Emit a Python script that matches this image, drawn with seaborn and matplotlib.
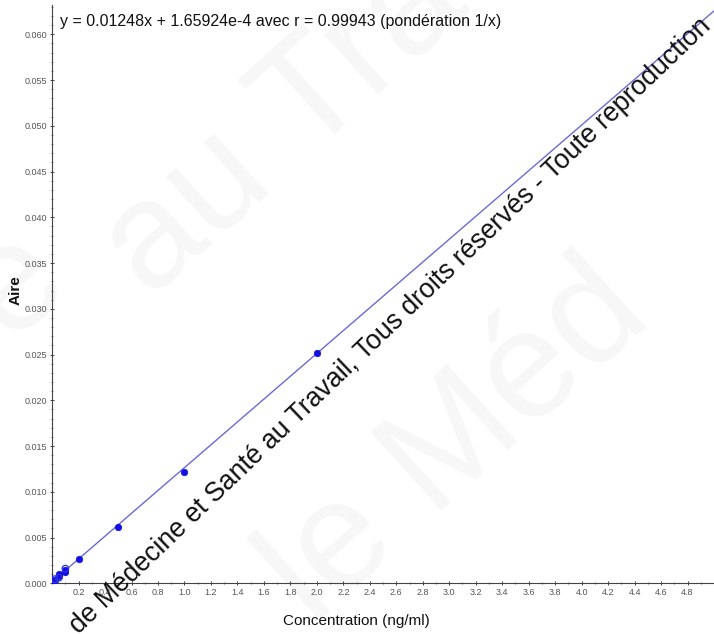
import numpy as np
import pandas as pd
import matplotlib
matplotlib.use("Agg")
import matplotlib.pyplot as plt
import seaborn as sns
from matplotlib.ticker import MultipleLocator, FormatStrFormatter

# Calibration data
conc_used = [0.01, 0.02, 0.05, 0.05, 0.1, 0.1, 0.2, 0.5, 1.0, 2.0]
area_used = [0.00022, 0.00035, 0.0008, 0.0010, 0.0012, 0.0015, 0.0027, 0.0061, 0.0122, 0.0252]
conc_open = [0.01, 0.02, 0.05, 0.1]
area_open = [0.00030, 0.00045, 0.0006, 0.0016]

slope = 0.01248
intercept = 1.65924e-4
x_range = [0.0, 5.0]

equation = "y = 0.01248x + 1.65924e-4 avec r = 0.99943 (pondération 1/x)"
watermark = "de Médecine et Santé au Travail, Tous droits réservés - Toute reproduction"

sns.set_theme(style="white")
plt.rcParams['font.family'] = ['Liberation Sans', 'DejaVu Sans']

fig = plt.figure(figsize=(7.14, 6.34), dpi=100)
ax = fig.add_axes([0.073, 0.080, 0.927, 0.912])
ax.patch.set_alpha(0)

# faint background watermark (behind everything)
for txt, xx, yy, sz in [("au Tra", 0.40, 0.80, 110), ("le Méd", 0.64, 0.30, 110), ("e", 0.02, 0.55, 110)]:
    fig.text(xx, yy, txt, fontsize=sz, color="#f7f7f7", rotation=42,
             ha="center", va="center", zorder=-5)

line_df = pd.DataFrame({"x": x_range, "y": [slope * v + intercept for v in x_range]})
sns.lineplot(data=line_df, x="x", y="y", ax=ax, color="#6a6ad8", linewidth=1.0)

used_df = pd.DataFrame({"x": conc_used, "y": area_used})
sns.scatterplot(data=used_df, x="x", y="y", ax=ax, color="#1010e0", s=22,
                edgecolor="#1010e0", linewidth=0.5, zorder=3)
open_df = pd.DataFrame({"x": conc_open, "y": area_open})
sns.scatterplot(data=open_df, x="x", y="y", ax=ax, facecolor="none", s=22,
                edgecolor="#3030e0", linewidth=0.9, zorder=3)

ax.set_xlim(0, 5.0)
ax.set_ylim(0, 0.0632)
ax.set_xticks([round(0.2 * i, 1) for i in range(1, 25)])
ax.xaxis.set_minor_locator(MultipleLocator(0.1))
ax.yaxis.set_major_locator(MultipleLocator(0.005))
ax.yaxis.set_minor_locator(MultipleLocator(0.001))
ax.yaxis.set_major_formatter(FormatStrFormatter("%.3f"))
ax.xaxis.set_major_formatter(FormatStrFormatter("%.1f"))

ax.tick_params(axis="both", which="major", length=3, width=0.7, direction="inout",
               labelsize=6.5, labelcolor="#555555", color="#444444", pad=2)
ax.tick_params(axis="both", which="minor", length=2, width=0.5, direction="inout", color="#444444")
ax.tick_params(bottom=True, left=True, which="both")

for s in ["top", "right"]:
    ax.spines[s].set_visible(False)
for s in ["left", "bottom"]:
    ax.spines[s].set_color("#444444")
    ax.spines[s].set_linewidth(0.8)

ax.set_xlabel("Concentration (ng/ml)", fontsize=11, color="#111111", labelpad=12)
ax.xaxis.label.set_x(0.46)
ax.set_ylabel("Aire", fontsize=11, fontweight="bold", color="#111111")
ax.yaxis.set_label_coords(-0.045, 0.507)

ax.text(0.012, 0.985, equation, transform=ax.transAxes, fontsize=11.5, color="#111111",
        ha="left", va="top")

fig.text(0.547, 0.486, watermark, fontsize=19.2, color="#111111", rotation=43.8,
         rotation_mode="anchor", ha="center", va="center", zorder=10)

fig.savefig("out.png", dpi=100)
